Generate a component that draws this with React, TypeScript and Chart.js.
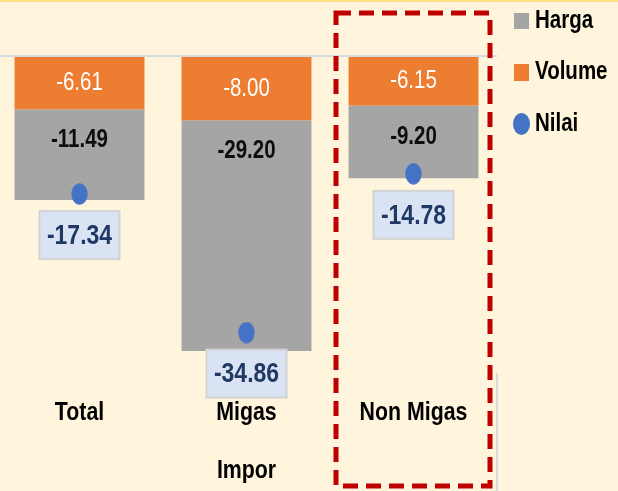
import React, { useEffect, useRef } from 'react';
import { Chart, registerables } from 'chart.js';

Chart.register(...registerables);

const categories = ['Total', 'Migas', 'Non Migas'];
const volumeValues = [-6.61, -8.0, -6.15];
const hargaValues = [-11.49, -29.2, -9.2];
const nilaiValues = [-17.34, -34.86, -14.78];
const axisTitle = 'Impor';
const seriesNames = ['Harga', 'Volume', 'Nilai'];

const FONT = '"Liberation Sans", Arial, sans-serif';
const SX = 0.82;
const OX = 4; // canvas is shifted 4px left of the page
const ORANGE = '#ED7D31';
const GRAY = '#A5A5A5';
const BLUE = '#4472C4';
const BG = '#FFF5DC';

function makeEllipse(w: number, h: number, color: string) {
  const c = document.createElement('canvas');
  c.width = w;
  c.height = h;
  const ctx = c.getContext('2d')!;
  ctx.fillStyle = color;
  ctx.beginPath();
  ctx.ellipse(w / 2, h / 2, w / 2 - 0.3, h / 2 - 0.3, 0, 0, Math.PI * 2);
  ctx.fill();
  return c;
}

const fmt = (v: number) => v.toFixed(2);

function narrowText(ctx: any, text: string, x: number, y: number, font: string, color: string, align: string = 'center') {
  ctx.save();
  ctx.font = font;
  ctx.fillStyle = color;
  ctx.textAlign = align;
  ctx.textBaseline = 'middle';
  ctx.translate(x, y);
  ctx.scale(SX, 1);
  ctx.fillText(text, 0, 0);
  ctx.restore();
}

const decorPlugin = {
  id: 'decor',
  beforeDraw(chart: any) {
    const { ctx, width, height } = chart;
    ctx.save();
    ctx.fillStyle = BG;
    ctx.fillRect(0, 0, width, height);
    ctx.fillStyle = '#FFE08A';
    ctx.fillRect(0, 0, width, 2);
    ctx.restore();
  },
  beforeDatasetsDraw(chart: any) {
    const { ctx, chartArea, scales } = chart;
    const y0 = scales.y.getPixelForValue(0);
    ctx.save();
    ctx.strokeStyle = '#D6DBE3';
    ctx.lineWidth = 2;
    ctx.beginPath();
    ctx.moveTo(0, y0 - 1);
    ctx.lineTo(chartArea.right, y0 - 1);
    ctx.stroke();
    ctx.strokeStyle = '#DADADA';
    ctx.beginPath();
    ctx.moveTo(chartArea.right, 373);
    ctx.lineTo(chartArea.right, chart.height);
    ctx.stroke();
    ctx.restore();
  },
  afterDatasetsDraw(chart: any) {
    const { ctx } = chart;
    const mV = chart.getDatasetMeta(0);
    mV.data.forEach((el: any, i: number) => {
      narrowText(ctx, fmt(volumeValues[i]), el.x, (el.y + el.base) / 2, `25px ${FONT}`, '#FFFFFF');
    });
    const mH = chart.getDatasetMeta(1);
    mH.data.forEach((el: any, i: number) => {
      narrowText(ctx, fmt(hargaValues[i]), el.x, el.base + 31, `bold 25px ${FONT}`, '#0D0D0D');
    });
  },
  afterDraw(chart: any) {
    const { ctx, scales } = chart;
    ctx.save();
    categories.forEach((c, i) => {
      narrowText(ctx, c, scales.x.getPixelForValue(i), 413, `bold 26px ${FONT}`, '#000000');
    });
    narrowText(ctx, axisTitle, (scales.x.left + scales.x.right) / 2, 471, `bold 26px ${FONT}`, '#000000');
    const mN = chart.getDatasetMeta(2);
    mN.data.forEach((el: any, i: number) => {
      const bx = el.x - 40;
      const by = el.y + 17;
      ctx.fillStyle = '#DAE3F3';
      ctx.fillRect(bx, by, 80, 48);
      ctx.strokeStyle = '#D3D3D3';
      ctx.lineWidth = 2;
      ctx.strokeRect(bx, by, 80, 48);
      narrowText(ctx, fmt(nilaiValues[i]), el.x, by + 25, `bold 28px ${FONT}`, '#1F3864');
    });
    ctx.strokeStyle = '#C00000';
    ctx.lineWidth = 5;
    ctx.setLineDash([15, 8]);
    ctx.strokeRect(336 + OX, 13, 154, 473);
    ctx.setLineDash([]);
    ctx.fillStyle = GRAY;
    ctx.fillRect(514 + OX, 13, 15, 16);
    ctx.fillStyle = ORANGE;
    ctx.fillRect(514 + OX, 64, 15, 17);
    ctx.fillStyle = BLUE;
    ctx.beginPath();
    ctx.ellipse(521.5 + OX, 124, 8.5, 11, 0, 0, Math.PI * 2);
    ctx.fill();
    narrowText(ctx, seriesNames[0], 535 + OX, 21, `bold 25px ${FONT}`, '#000000', 'left');
    narrowText(ctx, seriesNames[1], 535 + OX, 72, `bold 25px ${FONT}`, '#000000', 'left');
    narrowText(ctx, seriesNames[2], 535 + OX, 124, `bold 25px ${FONT}`, '#000000', 'left');
    ctx.restore();
  },
};

export default function App() {
  const ref = useRef<HTMLCanvasElement>(null);
  useEffect(() => {
    const dot = makeEllipse(17, 22, BLUE);
    const chart = new Chart(ref.current!, {
      type: 'bar',
      data: {
        labels: categories,
        datasets: [
          {
            label: seriesNames[1],
            data: volumeValues,
            backgroundColor: ORANGE,
            stack: 'bars',
            barPercentage: 0.778,
            categoryPercentage: 1,
            order: 2,
          },
          {
            label: seriesNames[0],
            data: hargaValues,
            backgroundColor: GRAY,
            stack: 'bars',
            barPercentage: 0.778,
            categoryPercentage: 1,
            order: 2,
          },
          {
            type: 'line',
            label: seriesNames[2],
            data: nilaiValues,
            stack: 'nilai',
            showLine: false,
            pointStyle: dot as any,
            pointRadius: 9,
            backgroundColor: BLUE,
            borderColor: BLUE,
            order: 1,
          } as any,
        ],
      },
      options: {
        animation: false,
        responsive: true,
        maintainAspectRatio: false,
        events: [],
        layout: { autoPadding: false, padding: { left: 0, right: 121, top: 57, bottom: 0 } },
        plugins: { legend: { display: false }, tooltip: { enabled: false } },
        scales: {
          x: {
            stacked: true,
            grid: { display: false, drawTicks: false },
            border: { display: false },
            ticks: { display: false },
            afterFit(scale: any) {
              scale.height = 98;
            },
          },
          y: {
            display: false,
            stacked: true,
            min: -42.5,
            max: 0,
          },
        },
      },
      plugins: [decorPlugin],
    });
    return () => chart.destroy();
  }, []);
  return (
    <div style={{ position: 'fixed', left: -OX, top: 0, width: 618 + OX, height: 491, background: BG }}>
      <canvas ref={ref} />
    </div>
  );
}
